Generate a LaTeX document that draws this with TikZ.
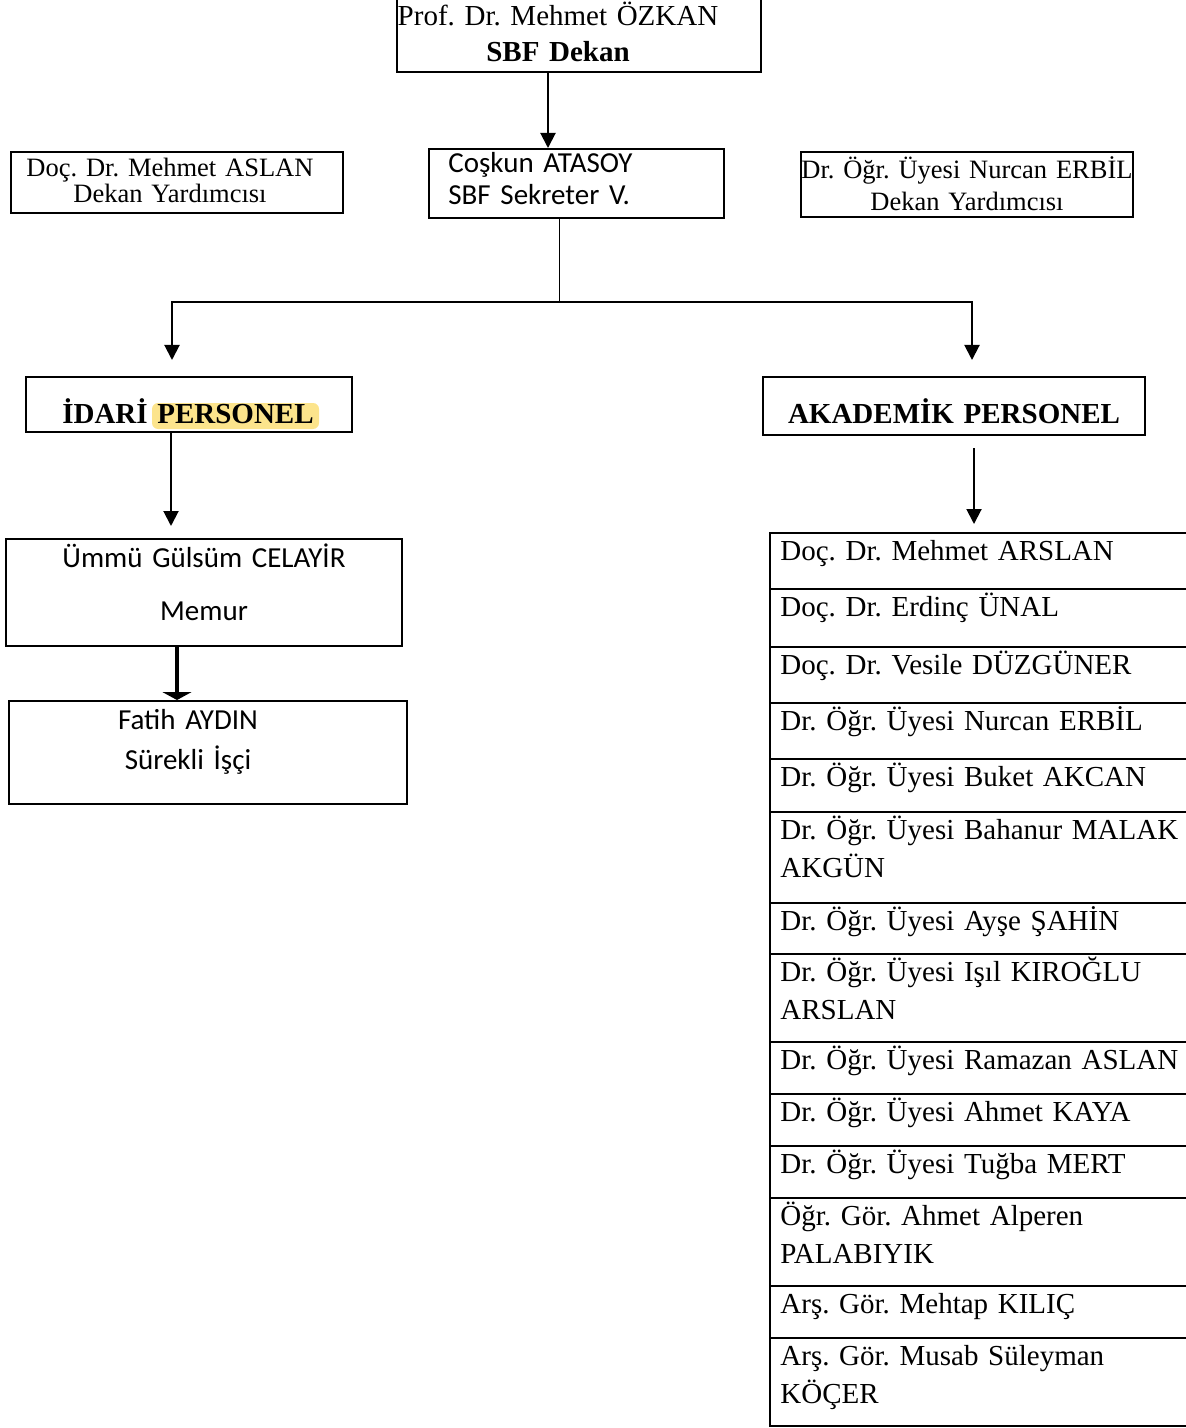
\documentclass[tikz,border=0pt]{standalone}
\usepackage{fontspec}
\setmainfont{Liberation Serif}
\newfontfamily\calibrifont{Carlito}
\usetikzlibrary{arrows.meta,fit}
\definecolor{hiliteyellow}{RGB}{252,228,140}
\frenchspacing

\begin{document}
\begin{tikzpicture}[x=0.5pt,y=-0.5pt,
	box/.style={draw,line width=1pt,inner sep=0pt},
	hilite/.style={fill=hiliteyellow,rounded corners=3pt,inner sep=0pt},
	box text/.style={inner sep=0pt,text width=200pt,align=center,anchor=base},
	list text/.style={inner sep=0pt,text width=250pt,align=left,anchor=base west,font=\fontsize{14.5pt}{19pt}\selectfont},
	arr/.style={-{Triangle[length=7.5pt,width=7.5pt]},line width=1pt},
	thick arr/.style={-{Triangle[length=4pt,width=14.5pt]},line width=2pt}
]
	\useasboundingbox (0,0) rectangle (1185,1428);

	\coordinate (dkcol) at (548,0);
	\coordinate (split) at (559,302);
	\coordinate (colL) at (172,0);
	\coordinate (colR) at (972,0);
	\coordinate (colU) at (171,0);
	\coordinate (colA) at (974,0);
	\coordinate (colT) at (177,0);

	\node[box,fit={(397,-20) (761,72)}] (dekan) {};
	\node[box,fit={(11,152) (343,213)}] (yardL) {};
	\node[box,fit={(429,149) (724,218)}] (sekreter) {};
	\node[box,fit={(801,152) (1133,217)}] (yardR) {};
	\node[box,fit={(26,377) (352,432)}] (idari) {};
	\node[box,fit={(763,377) (1145,435)}] (akademik) {};
	\node[box,fit={(6,539) (402,646)}] (memur) {};
	\node[box,fit={(9,701) (407,804)}] (isci) {};
	\node[hilite,fit={(152,403) (319,429)}] (hl) {};

	\node[box text,font=\fontsize{14.5pt}{18pt}\selectfont] (dekanT) at (558,26) {Prof. Dr. Mehmet ÖZKAN\\\textbf{SBF Dekan}};
	\node[box text,font=\fontsize{13.25pt}{13pt}\selectfont] (yardLT) at (170,177) {Doç. Dr. Mehmet ASLAN\\Dekan Yardımcısı};
	\node[box text,align=left,anchor=base west,font=\calibrifont\fontsize{14.5pt}{16pt}\selectfont] (sekreterT) at (448,173) {Coşkun ATASOY\\SBF Sekreter V.};
	\node[box text,font=\fontsize{13.25pt}{16pt}\selectfont] (yardRT) at (967,179) {Dr. Öğr. Üyesi Nurcan ERBİL\\Dekan Yardımcısı};
	\node[box text,font=\bfseries\fontsize{14.5pt}{18pt}\selectfont] (idariT) at (188,423) {İDARİ PERSONEL};
	\node[box text,font=\bfseries\fontsize{14.5pt}{18pt}\selectfont] (akademikT) at (954,423) {AKADEMİK PERSONEL};
	\node[box text,font=\calibrifont\fontsize{14.5pt}{26.5pt}\selectfont] (memurT) at (204,567) {Ümmü Gülsüm CELAYİR\\Memur};
	\node[box text,font=\calibrifont\fontsize{14.5pt}{20pt}\selectfont] (isciT) at (188,729) {Fatih AYDIN\\Sürekli İşçi};

	\foreach \ya/\yb/\who [count=\i] in {
		533/589/{Doç. Dr. Mehmet ARSLAN},
		589/647/{Doç. Dr. Erdinç ÜNAL},
		647/703/{Doç. Dr. Vesile DÜZGÜNER},
		703/759/{Dr. Öğr. Üyesi Nurcan ERBİL},
		759/812/{Dr. Öğr. Üyesi Buket AKCAN},
		812/903/{Dr. Öğr. Üyesi Bahanur MALAK\\AKGÜN},
		903/954/{Dr. Öğr. Üyesi Ayşe ŞAHİN},
		954/1042/{Dr. Öğr. Üyesi Işıl KIROĞLU\\ARSLAN},
		1042/1094/{Dr. Öğr. Üyesi Ramazan ASLAN},
		1094/1146/{Dr. Öğr. Üyesi Ahmet KAYA},
		1146/1198/{Dr. Öğr. Üyesi Tuğba MERT},
		1198/1286/{Öğr. Gör. Ahmet Alperen\\PALABIYIK},
		1286/1338/{Arş. Gör. Mehtap KILIÇ},
		1338/1426/{Arş. Gör. Musab Süleyman\\KÖÇER}} {
		\node[box,fit={(770,\ya) (1200,\yb)}] (row\i) {};
		\node[list text] (name\i) at (780,{\ya+27}) {\who};
	}

	\draw[arr] (dekan.south -| dkcol) -- (sekreter.north -| dkcol);
	\draw[line width=0.5pt] (sekreter.south -| split) -- (split);
	\draw[arr,shorten >=8pt] (split) -| (idari.north -| colL);
	\draw[arr,shorten >=8pt] (split) -| (akademik.north -| colR);
	\draw[arr,shorten >=6pt] (idari.south -| colU) -- (memur.north -| colU);
	\draw[arr,shorten <=6pt,shorten >=4pt] (akademik.south -| colA) -- (row1.north -| colA);
	\draw[thick arr] (memur.south -| colT) -- (isci.north -| colT);
\end{tikzpicture}
\end{document}
